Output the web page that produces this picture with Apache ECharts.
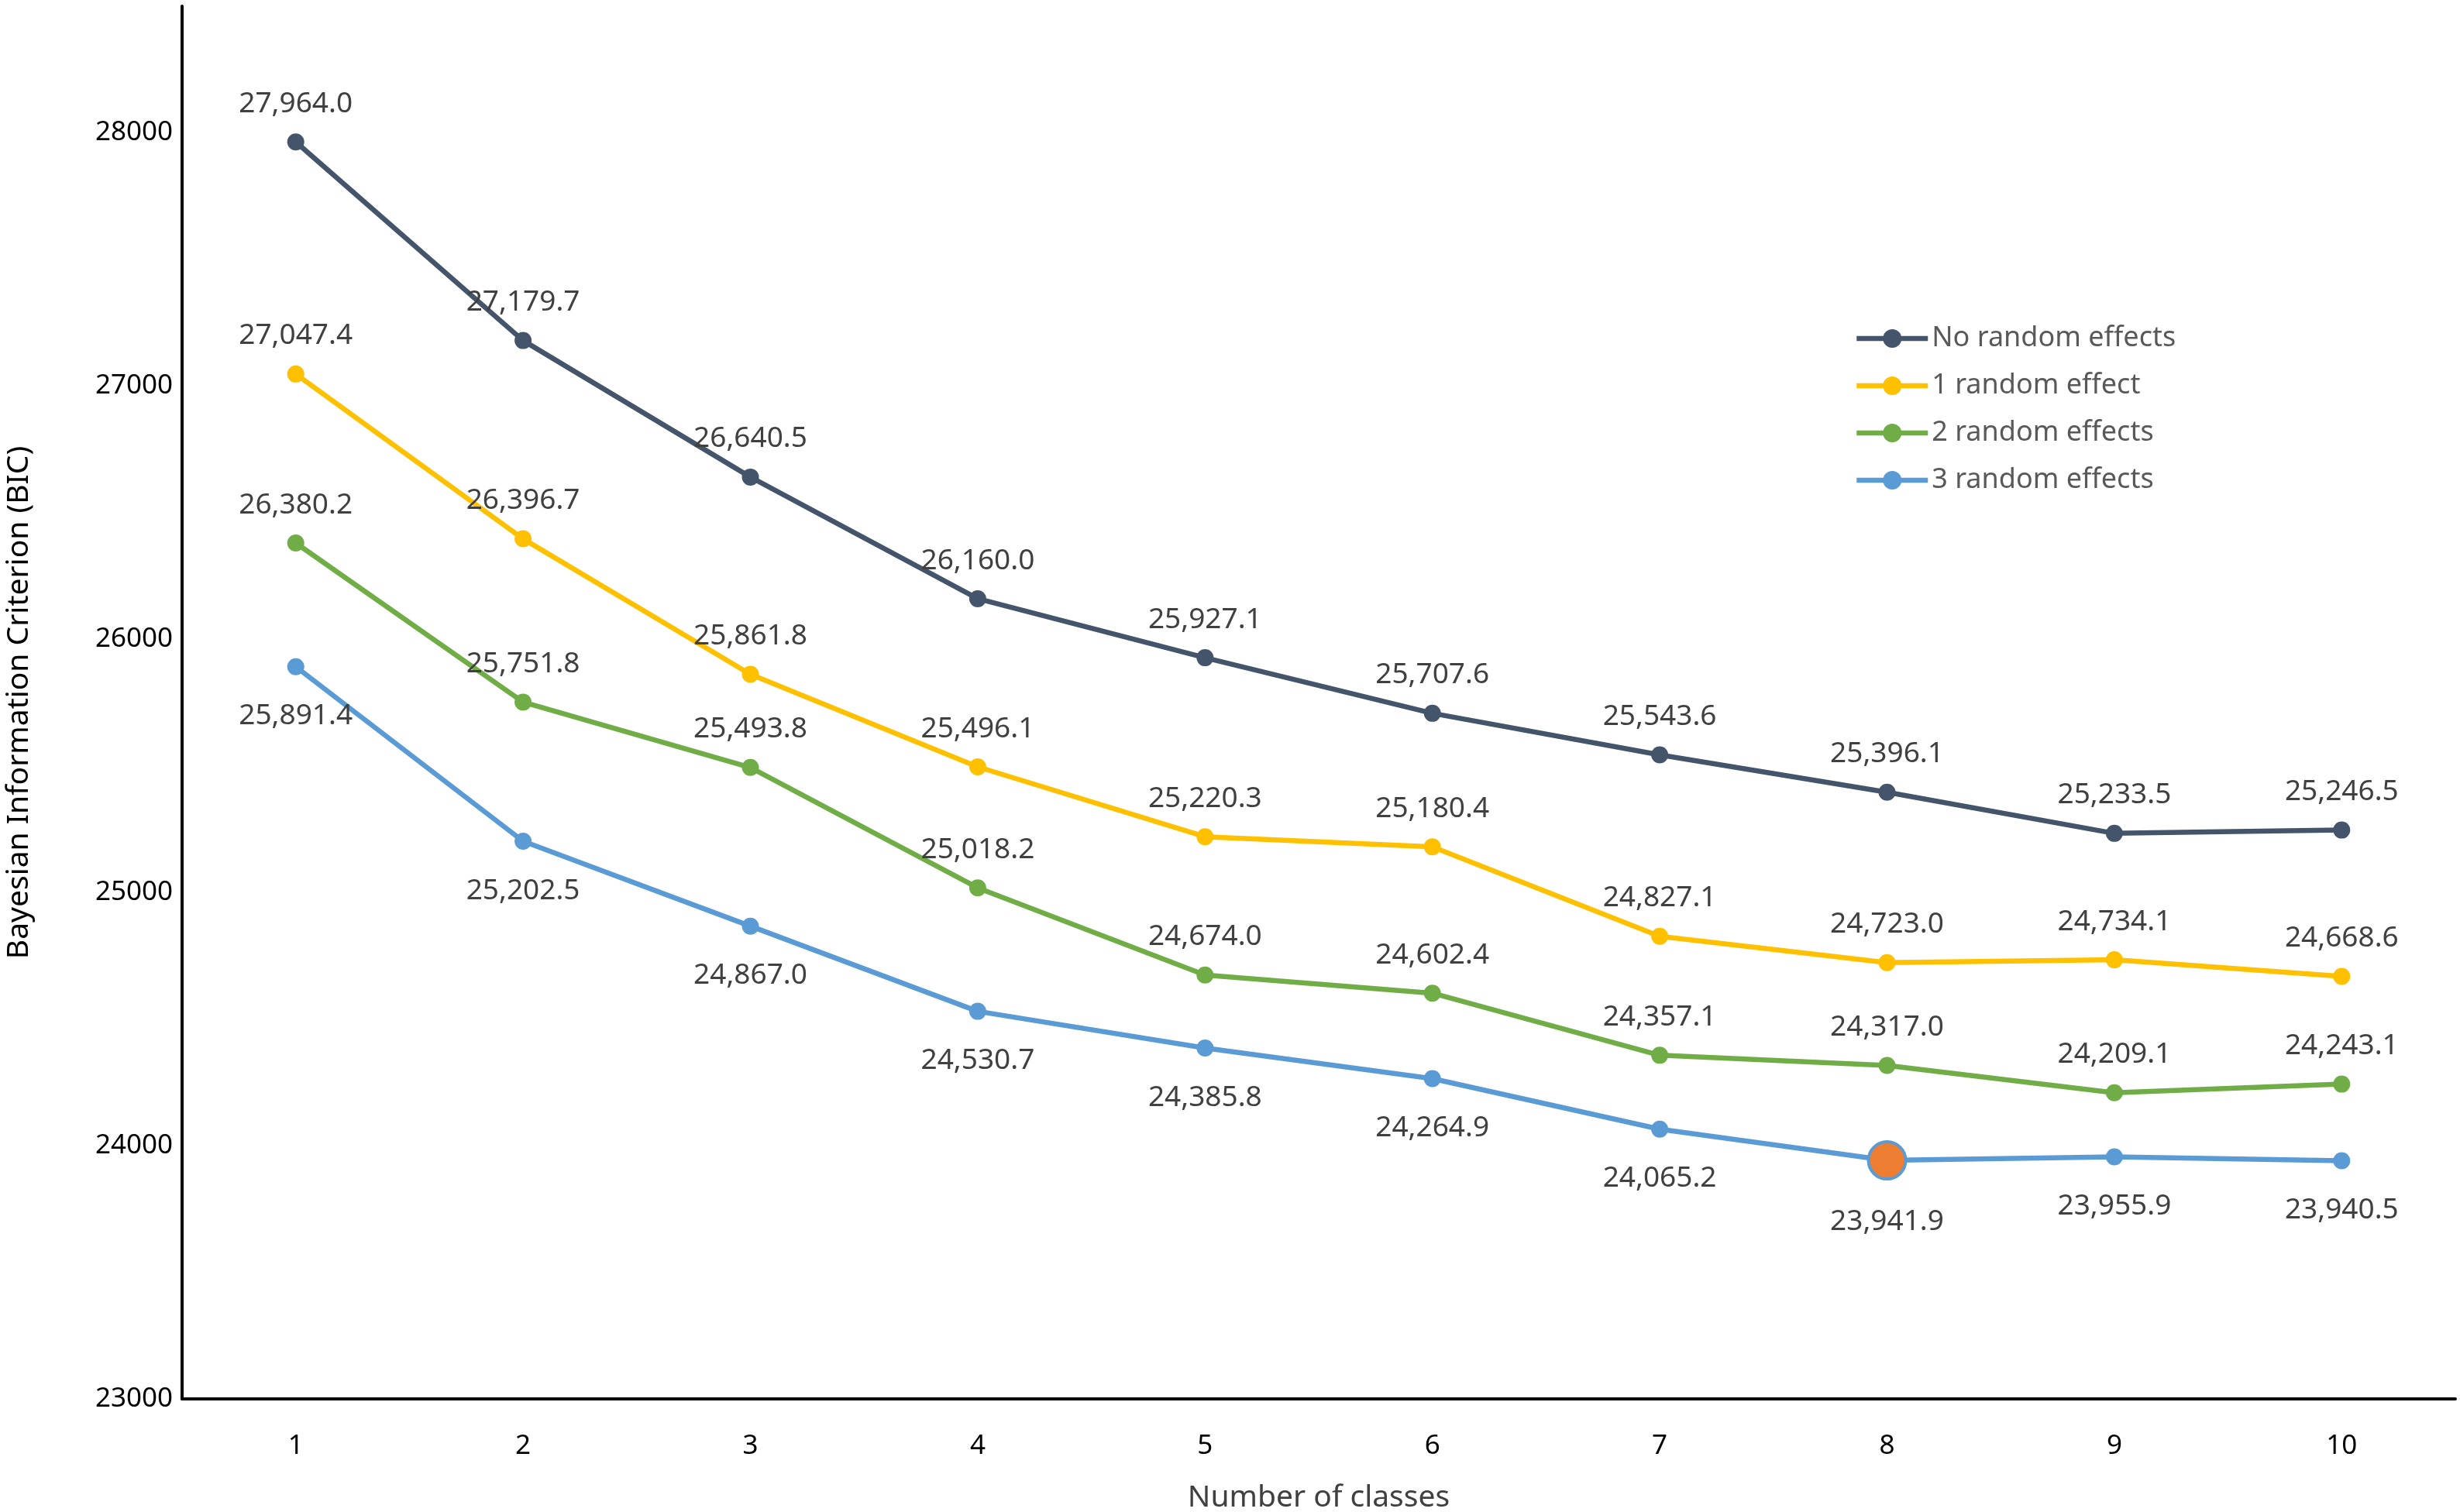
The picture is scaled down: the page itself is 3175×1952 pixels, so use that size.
<!DOCTYPE html>
<html>
<head>
<meta charset="utf-8">
<script src="https://cdn.jsdelivr.net/npm/echarts@6/dist/echarts.min.js"></script>
<style>html,body{margin:0;padding:0;background:#fff;}#c{width:3175px;height:1952px;}</style>
</head>
<body>
<div id="c"></div>
<script>
const categories = ['1','2','3','4','5','6','7','8','9','10'];
const seriesNames = ['No random effects','1 random effect','2 random effects','3 random effects'];
const noRandom = [27964.0, 27179.7, 26640.5, 26160.0, 25927.1, 25707.6, 25543.6, 25396.1, 25233.5, 25246.5];
const oneRandom = [27047.4, 26396.7, 25861.8, 25496.1, 25220.3, 25180.4, 24827.1, 24723.0, 24734.1, 24668.6];
const twoRandom = [26380.2, 25751.8, 25493.8, 25018.2, 24674.0, 24602.4, 24357.1, 24317.0, 24209.1, 24243.1];
const threeRandom = [25891.4, 25202.5, 24867.0, 24530.7, 24385.8, 24264.9, 24065.2, 23941.9, 23955.9, 23940.5];
const yTicks = [23000, 24000, 25000, 26000, 27000, 28000];
const highlightIndex = 7; // selected model: 3 random effects, 8 classes
const colors = ['#44546A', '#FFC000', '#70AD47', '#5B9BD5'];

const FONT = 'Noto Sans';
const fmt = v => v.toLocaleString('en-US', {minimumFractionDigits: 1, maximumFractionDigits: 1});

function makeSeries(name, data, color, pos, dist, highlight) {
  return {
    name: name,
    type: 'line',
    data: data.map((v, i) => {
      if (highlight && i === highlightIndex) {
        return {value: v, symbolSize: 48, itemStyle: {color: '#ED7D31', borderColor: color, borderWidth: 4}};
      }
      return v;
    }),
    symbol: 'circle',
    symbolSize: 22,
    lineStyle: {color: color, width: 6.5},
    itemStyle: {color: color},
    label: {
      show: true,
      position: pos,
      distance: dist,
      fontFamily: FONT,
      fontSize: 37,
      lineHeight: 40,
      color: '#404040',
      formatter: p => fmt(p.value)
    },
    emphasis: {disabled: true},
    z: 2
  };
}

const chart = echarts.init(document.getElementById('c'));
chart.setOption({
  animation: false,
  backgroundColor: '#fff',
  grid: {left: 235, right: 6, top: 8, bottom: 146, outerBoundsMode: 'none', containLabel: false},
  legend: {
    orient: 'vertical',
    left: 2388,
    top: 412,
    itemWidth: 92,
    itemHeight: 30,
    itemGap: 21,
    lineStyle: {width: 6.5},
    textStyle: {fontFamily: FONT, fontSize: 36, lineHeight: 40, color: '#595959'},
    data: seriesNames
  },
  xAxis: {
    type: 'category',
    data: categories,
    boundaryGap: true,
    name: 'Number of classes',
    nameLocation: 'middle',
    nameGap: 108,
    nameTextStyle: {fontFamily: FONT, fontSize: 39, color: '#404040'},
    axisLine: {lineStyle: {color: '#000', width: 4}},
    axisTick: {show: false},
    axisLabel: {fontFamily: FONT, fontSize: 35, color: '#000', margin: 44}
  },
  yAxis: {
    type: 'value',
    min: 23000,
    max: 28500,
    interval: 1000,
    name: 'Bayesian Information Criterion (BIC)',
    nameLocation: 'middle',
    nameGap: 191,
    nameTextStyle: {fontFamily: FONT, fontSize: 39, color: '#000'},
    axisLine: {show: true, lineStyle: {color: '#000', width: 4}},
    axisTick: {show: false},
    splitLine: {show: false},
    axisLabel: {
      fontFamily: FONT, fontSize: 35, color: '#000', margin: 12,
      showMaxLabel: false,
      formatter: v => (yTicks.indexOf(v) >= 0 ? String(v) : '')
    }
  },
  series: [
    makeSeries(seriesNames[0], noRandom, colors[0], 'top', 18, false),
    makeSeries(seriesNames[1], oneRandom, colors[1], 'top', 18, false),
    makeSeries(seriesNames[2], twoRandom, colors[2], 'top', 18, false),
    makeSeries(seriesNames[3], threeRandom, colors[3], 'bottom', 33, true)
  ]
});
</script>
</body>
</html>
